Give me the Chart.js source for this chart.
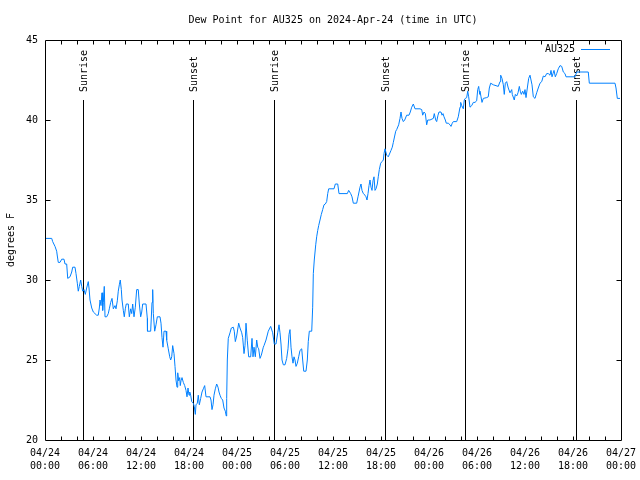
<!DOCTYPE html>
<html><head><meta charset="utf-8">
<script src="https://cdn.jsdelivr.net/npm/chart.js@4"></script>
<style>html,body{margin:0;padding:0;background:#fff}</style>
</head><body>
<canvas id="c" width="640" height="480" style="width:640px;height:480px;display:block"></canvas>
<script>
// hours since 2024-04-24 00:00 UTC
const hours = [
0,0.84,0.96,1.25,1.46,1.54,1.66,1.875,2.09,2.375,2.5,2.71,2.84,3.125,3.34,3.46,3.75,3.875,4.04,4.16,
4.29,4.46,4.59,4.71,4.875,5.04,5.21,5.41,5.5,5.625,5.84,6.04,6.46,6.66,6.79,6.875,7.0,7.125,7.21,7.29,
7.41,7.5,7.71,7.91,8.04,8.21,8.375,8.54,8.75,8.875,9.04,9.16,9.29,9.41,9.54,9.625,9.79,9.91,10.04,10.16,
10.41,10.54,10.71,10.84,10.96,11.125,11.29,11.46,11.66,11.79,11.96,12.09,12.21,12.625,12.79,12.81,13.21,13.375,13.46,13.54,
13.71,13.875,14.04,14.375,14.5,14.625,14.75,14.875,15.125,15.21,15.41,15.59,15.71,15.84,15.96,16.125,16.25,16.375,16.5,16.59,
16.71,16.84,16.91,17.0,17.125,17.29,17.46,17.625,17.75,17.875,18.0,18.09,18.21,18.34,18.54,18.66,18.79,18.875,19.04,19.16,
19.29,19.46,19.625,19.79,19.96,20.125,20.625,20.75,20.875,21.0,21.125,21.29,21.46,21.625,21.75,21.875,22.04,22.21,22.375,22.54,
22.66,22.71,22.79,22.91,23.125,23.29,23.54,23.66,23.79,23.96,24.21,24.375,24.59,24.71,24.875,25.0,25.125,25.29,25.46,25.71,
25.875,26.0,26.125,26.29,26.46,26.59,26.71,26.875,27.04,27.29,27.375,27.625,27.91,28.21,28.46,28.66,28.875,29.09,29.25,29.375,
29.5,29.625,29.79,30.0,30.21,30.375,30.5,30.625,30.75,30.875,31.0,31.125,31.25,31.375,31.54,31.71,31.875,32.09,32.21,32.34,
32.625,32.79,32.91,33.04,33.34,33.46,33.54,33.66,33.84,33.96,34.09,34.21,34.375,34.54,34.71,34.875,35.04,35.21,35.34,35.46,
36.125,36.29,36.59,36.75,37.79,37.96,38.21,38.375,38.54,38.96,39.125,39.25,39.375,39.5,39.625,39.79,40.0,40.125,40.25,40.375,
40.5,40.625,40.75,40.875,41.0,41.125,41.25,41.375,41.54,41.66,41.79,41.96,42.125,42.29,42.375,42.5,42.71,42.91,43.25,43.41,
43.54,43.71,43.84,43.96,44.21,44.375,44.5,44.625,44.79,44.96,45.21,45.5,45.66,45.84,46.04,46.25,46.875,47.09,47.21,47.375,
47.54,47.71,47.84,48.125,48.54,48.66,48.84,48.96,49.125,49.25,49.5,49.625,49.75,49.875,50.04,50.16,50.41,50.625,50.75,50.91,
51.04,51.46,51.66,51.875,51.96,52.09,52.29,52.41,52.54,52.71,52.84,52.96,53.125,53.34,53.54,53.75,53.96,54.09,54.21,54.34,
54.375,54.5,54.625,54.79,55.21,55.41,55.54,55.71,56.04,56.66,56.875,56.96,57.125,57.29,57.41,57.54,57.71,57.91,58.125,58.34,
58.41,58.66,58.79,58.96,59.125,59.29,59.41,59.54,59.71,59.875,60.0,60.125,60.29,60.46,60.625,60.75,60.875,61.04,61.25,61.46,
61.66,61.875,62.09,62.29,62.5,62.71,62.91,63.125,63.25,63.375,63.5,63.625,63.79,63.96,64.16,64.375,64.59,64.79,65.0,65.125,
66.25,66.46,67.91,68.04,71.25,71.375,71.54,71.875
];
// dew point, degrees F
const dewPoint = [
32.6,32.6,32.4,32.1,31.8,31.5,31.1,31.1,31.3,31.3,31.0,31.0,30.1,30.2,30.5,30.8,30.8,30.4,29.8,29.3,
29.6,30.0,29.6,29.3,29.4,29.1,29.5,29.9,29.5,28.75,28.25,28.0,27.8,27.8,28.25,28.75,28.4,29.2,28.1,28.6,
29.6,27.7,27.7,27.9,28.2,28.6,28.85,28.2,28.4,28.2,28.7,29.3,29.7,30.0,29.4,28.75,28.1,27.7,28.2,28.5,
28.5,27.7,28.2,27.9,28.5,27.7,28.3,29.4,29.4,28.5,27.7,28.0,28.5,28.5,27.6,26.8,26.8,28.6,29.4,27.9,
26.8,27.2,27.7,27.7,27.3,26.4,25.8,26.8,26.8,26.25,25.7,25.2,25.0,25.2,25.9,25.4,24.6,23.75,23.3,24.2,
23.7,23.9,23.4,23.7,23.9,23.6,23.4,23.1,22.7,23.25,22.8,23.0,22.8,22.4,22.3,22.1,21.6,22.2,22.3,22.8,
22.2,22.6,23.0,23.2,23.4,22.7,22.7,22.5,21.9,22.2,22.8,23.2,23.5,23.3,23.0,22.8,22.6,22.5,22.0,21.8,
21.5,22.6,25.0,26.35,26.7,27.0,27.05,26.8,26.15,26.5,27.3,27.0,26.7,26.4,25.4,25.9,27.3,26.2,25.2,25.2,
26.35,25.2,25.8,25.2,26.25,25.8,25.7,25.1,25.3,25.8,25.9,26.25,26.8,27.1,26.7,26.0,26.0,26.7,27.2,26.7,
26.0,25.0,24.7,24.7,25.1,25.7,26.6,26.9,25.8,25.2,24.8,25.2,25.0,24.6,24.8,25.2,25.6,25.7,25.0,24.3,
24.3,25.0,26.15,26.8,26.8,28.3,30.4,31.25,32.2,32.7,33.1,33.4,33.75,34.1,34.4,34.7,34.75,34.9,35.4,35.7,
35.7,36.0,36.0,35.4,35.4,35.6,35.4,35.2,34.8,34.8,35.2,35.5,35.8,36.0,35.6,35.4,35.3,35.2,35.0,35.4,
35.9,36.25,35.8,35.6,36.2,36.45,35.6,35.7,36.0,36.45,36.9,37.3,37.4,37.5,37.9,38.2,37.8,37.7,38.1,38.3,
38.6,39.0,39.3,39.4,39.7,40.1,40.5,40.1,39.9,40.0,40.3,40.3,40.5,40.8,41.0,40.7,40.7,40.65,40.3,40.5,
40.4,39.7,40.0,40.0,40.1,40.4,40.0,39.9,40.3,40.5,40.5,40.3,40.4,40.2,40.0,39.8,39.8,39.7,39.6,39.8,
39.9,39.9,40.2,40.8,41.1,40.9,40.7,41.25,41.35,41.4,41.8,41.45,40.8,40.9,41.1,41.1,41.2,41.9,42.1,41.6,
41.8,41.45,41.1,41.35,41.4,41.45,42.0,42.3,42.2,42.1,42.4,42.8,42.6,42.2,41.6,42.3,42.4,42.0,41.7,41.9,
41.6,41.25,41.6,41.5,41.7,42.1,41.8,41.6,41.8,41.6,41.9,41.4,42.0,42.6,42.8,42.5,42.2,41.45,41.35,41.7,
42.0,42.3,42.4,42.75,42.7,42.9,42.9,42.8,43.1,42.7,42.9,43.1,42.7,42.9,43.2,43.4,43.35,43.0,42.9,42.7,
42.7,43.0,43.0,42.3,42.3,42.0,41.35,41.35
];
const tickLabels = [
['04/24','00:00'],['04/24','06:00'],['04/24','12:00'],['04/24','18:00'],
['04/25','00:00'],['04/25','06:00'],['04/25','12:00'],['04/25','18:00'],
['04/26','00:00'],['04/26','06:00'],['04/26','12:00'],['04/26','18:00'],
['04/27','00:00']
];
const eventHours = [4.78, 18.53, 28.67, 42.54, 52.5, 66.37];
const eventLabels = ['Sunrise','Sunset','Sunrise','Sunset','Sunrise','Sunset'];
const seriesName = 'AU325';
const titleText = 'Dew Point for AU325 on 2024-Apr-24 (time in UTC)';
const lineColor = 'rgb(0,128,255)';

const FAM = '"DejaVu Sans Mono", "Liberation Mono", monospace';
const FONT = '10px ' + FAM;

const decor = {
  id: 'decor',
  beforeDatasetsDraw(chart) {
    const {ctx, chartArea: a, scales: {x}} = chart;
    ctx.save();
    ctx.strokeStyle = '#000'; ctx.lineWidth = 1;
    ctx.fillStyle = '#000'; ctx.font = FONT;
    eventHours.forEach((h, i) => {
      const px = Math.round(x.getPixelForValue(h)) + 0.5;
      ctx.beginPath(); ctx.moveTo(px, a.top + 60); ctx.lineTo(px, a.bottom); ctx.stroke();
      ctx.save();
      ctx.translate(px + 1, a.top + 52);
      ctx.rotate(-Math.PI / 2);
      ctx.textAlign = 'left'; ctx.textBaseline = 'middle';
      ctx.fillText(eventLabels[i], 0, 0);
      ctx.restore();
    });
    ctx.restore();
  },
  afterDatasetsDraw(chart) {
    const {ctx, chartArea: a, scales: {x, y}} = chart;
    ctx.save();
    ctx.strokeStyle = '#000'; ctx.lineWidth = 1;
    const L = Math.round(a.left) + 0.5, R = Math.round(a.right) + 0.5;
    const T = Math.round(a.top) + 0.5, B = Math.round(a.bottom) + 0.5;
    ctx.beginPath();
    ctx.rect(L, T, R - L, B - T);
    for (let h = 2; h < 72; h += 2) {
      const px = Math.round(x.getPixelForValue(h)) + 0.5;
      ctx.moveTo(px, B); ctx.lineTo(px, B - 4);
      ctx.moveTo(px, T); ctx.lineTo(px, T + 4);
    }
    for (let v = 25; v < 45; v += 5) {
      const py = Math.round(y.getPixelForValue(v)) + 0.5;
      ctx.moveTo(L, py); ctx.lineTo(L + 5, py);
      ctx.moveTo(R, py); ctx.lineTo(R - 5, py);
    }
    ctx.stroke();
    // legend
    const ds = chart.data.datasets[0];
    ctx.font = FONT; ctx.fillStyle = '#000';
    ctx.textAlign = 'right'; ctx.textBaseline = 'middle';
    ctx.fillText(ds.label, a.right - 46, a.top + 9);
    ctx.strokeStyle = ds.borderColor;
    ctx.beginPath();
    ctx.moveTo(a.right - 40, Math.round(a.top + 9) + 0.5);
    ctx.lineTo(a.right - 11, Math.round(a.top + 9) + 0.5);
    ctx.stroke();
    ctx.restore();
  }
};

new Chart(document.getElementById('c'), {
  type: 'line',
  data: {
    datasets: [{
      label: seriesName,
      data: hours.map((h, i) => ({x: h, y: dewPoint[i]})),
      borderColor: lineColor,
      backgroundColor: lineColor,
      borderWidth: 1,
      pointRadius: 0,
      tension: 0,
      fill: false
    }]
  },
  options: {
    responsive: false,
    animation: false,
    devicePixelRatio: 1,
    layout: {padding: {top: 0, left: 0, right: 19, bottom: 0}},
    plugins: {
      legend: {display: false},
      tooltip: {enabled: false},
      title: {
        display: true, text: titleText, fullSize: false, color: '#000',
        font: {family: FAM, size: 10, weight: 'normal', lineHeight: 1.2},
        padding: {top: 14, bottom: 14}
      }
    },
    scales: {
      x: {
        type: 'linear', min: 0, max: 72,
        grid: {display: false, drawTicks: false},
        border: {display: false},
        afterFit(s) { s.height = 40; s.paddingLeft = 0; s.paddingRight = 0; },
        ticks: {
          stepSize: 6, autoSkip: false, maxRotation: 0, minRotation: 0,
          padding: 7, color: '#000',
          font: {family: FAM, size: 10, lineHeight: '13px'},
          callback: (v, i) => tickLabels[i]
        }
      },
      y: {
        min: 20, max: 45,
        grid: {display: false, drawTicks: false},
        border: {display: false},
        afterFit(s) { s.width = 45; },
        ticks: {stepSize: 5, padding: 7, color: '#000', font: {family: FAM, size: 10}},
        title: {display: true, text: 'degrees F', color: '#000', font: {family: FAM, size: 10}, padding: {top: 5, bottom: 0}}
      }
    }
  },
  plugins: [decor]
});
</script>
</body></html>
